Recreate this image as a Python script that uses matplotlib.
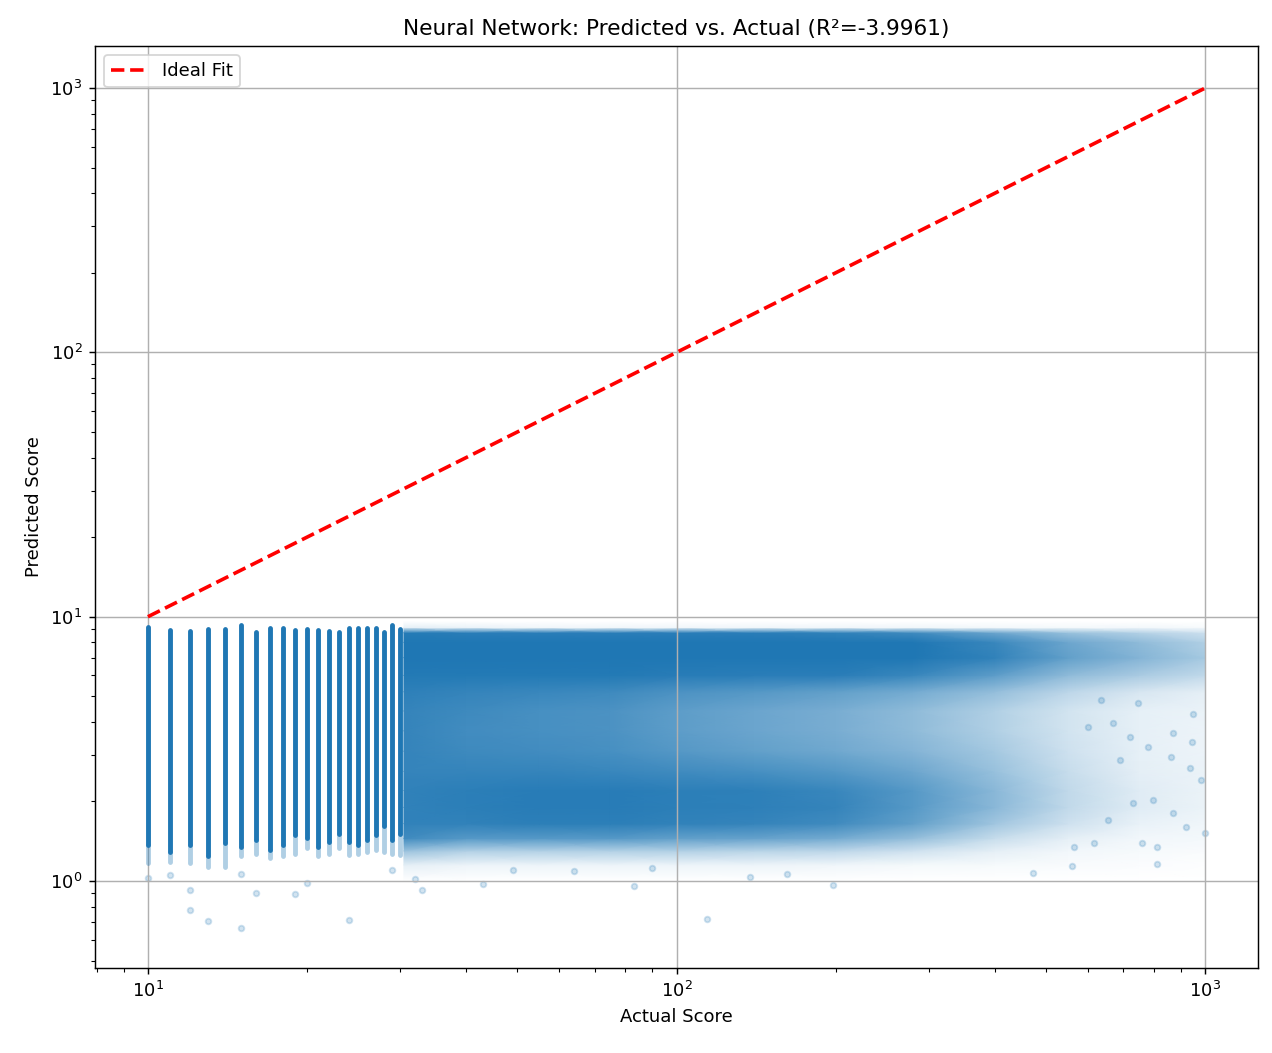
import numpy as np
import matplotlib
matplotlib.use('Agg')
import matplotlib.pyplot as plt
from matplotlib.colors import LinearSegmentedColormap

# Идеальная линия: от минимального до максимального значения
score_min, score_max = 10, 1000
r2 = -3.9961

# Вертикальные полосы для целых оценок 10..30 (верх, низ плотной части, хвост)
stripe_x = [10, 11, 12, 13, 14, 15, 16, 17, 18, 19, 20, 21, 22, 23, 24, 25, 26, 27, 28, 29, 30]
stripe_top = [9.12, 8.91, 8.85, 8.96, 8.96, 9.30, 8.77, 9.04, 9.04, 8.91, 8.96,
              8.91, 8.85, 8.77, 9.04, 9.04, 9.04, 9.04, 8.77, 9.30, 8.96]
stripe_low = [1.37, 1.29, 1.37, 1.24, 1.39, 1.35, 1.43, 1.31, 1.37, 1.49, 1.45,
              1.35, 1.41, 1.51, 1.41, 1.37, 1.43, 1.49, 1.61, 1.43, 1.51]
stripe_tail = [1.17, 1.18, 1.17, 1.13, 1.13, 1.24, 1.27, 1.22, 1.24, 1.27, 1.33,
               1.24, 1.27, 1.33, 1.25, 1.27, 1.29, 1.31, 1.29, 1.27, 1.25]

# Плотность облака точек для оценок > 30 (строки - предсказание, столбцы - факт)
cloud_x = [30.5, 40, 55, 75, 100, 140, 200, 280, 400, 550, 750, 1000]
cloud_y = [1.0, 1.15, 1.3, 1.45, 1.65, 1.9, 2.2, 2.6, 3.1, 3.7, 4.4, 5.2, 6.0, 7.0, 8.0, 8.7, 9.1, 9.6]
cloud_density = [
    [0, 0, 0, 0, 0, 0, 0, 0, 0, 0, 0, 0],
    [0.12, 0.08, 0.08, 0.08, 0.08, 0.08, 0.07, 0.05, 0.04, 0.03, 0.02, 0.01],
    [0.45, 0.35, 0.35, 0.35, 0.35, 0.32, 0.30, 0.22, 0.12, 0.06, 0.04, 0.03],
    [0.85, 0.75, 0.75, 0.75, 0.70, 0.68, 0.62, 0.48, 0.25, 0.12, 0.06, 0.05],
    [0.92, 0.92, 0.94, 0.94, 0.92, 0.90, 0.85, 0.70, 0.42, 0.22, 0.10, 0.07],
    [0.92, 0.94, 0.96, 0.96, 0.94, 0.93, 0.90, 0.75, 0.52, 0.28, 0.14, 0.09],
    [0.92, 0.94, 0.96, 0.96, 0.94, 0.93, 0.88, 0.75, 0.52, 0.28, 0.14, 0.09],
    [0.90, 0.90, 0.90, 0.88, 0.85, 0.82, 0.76, 0.65, 0.46, 0.25, 0.12, 0.09],
    [0.90, 0.86, 0.84, 0.82, 0.76, 0.70, 0.64, 0.55, 0.40, 0.22, 0.11, 0.08],
    [0.90, 0.84, 0.82, 0.80, 0.72, 0.66, 0.60, 0.50, 0.35, 0.20, 0.11, 0.08],
    [0.90, 0.86, 0.82, 0.80, 0.72, 0.66, 0.60, 0.50, 0.35, 0.20, 0.11, 0.09],
    [0.93, 0.90, 0.88, 0.86, 0.80, 0.76, 0.70, 0.62, 0.48, 0.30, 0.18, 0.12],
    [0.98, 0.98, 0.98, 0.98, 0.96, 0.95, 0.95, 0.88, 0.72, 0.50, 0.38, 0.28],
    [1.00, 1.00, 1.00, 1.00, 1.00, 1.00, 1.00, 1.00, 0.92, 0.70, 0.55, 0.40],
    [1.00, 1.00, 1.00, 1.00, 1.00, 1.00, 1.00, 1.00, 0.88, 0.65, 0.50, 0.35],
    [0.97, 0.95, 0.95, 0.95, 0.95, 0.95, 0.92, 0.85, 0.65, 0.45, 0.33, 0.22],
    [0.12, 0.10, 0.07, 0.07, 0.07, 0.07, 0.07, 0.07, 0.06, 0.05, 0.06, 0.04],
    [0, 0, 0, 0, 0, 0, 0, 0, 0, 0, 0, 0],
]

# Отдельные точки (выбросы и редкие точки справа)
single_actual = [10, 11, 12, 12, 13, 15, 15, 16, 19, 20, 24, 29, 32, 33, 43, 49, 64, 83, 90,
                 114, 138, 162, 198, 473, 560, 811, 944, 760, 812, 920, 1000, 980, 935, 860,
                 950, 870, 780, 720, 670, 745, 635, 600, 690, 730, 795, 870, 655, 615, 565]
single_pred = [1.03, 1.05, 0.925, 0.777, 0.706, 0.664, 1.06, 0.90, 0.893, 0.98, 0.711, 1.10,
               1.02, 0.925, 0.975, 1.10, 1.09, 0.957, 1.12, 0.718, 1.035, 1.06, 0.965, 1.07,
               1.14, 1.16, 3.37, 1.39, 1.34, 1.60, 1.52, 2.41, 2.67, 2.95, 4.3, 3.63, 3.21,
               3.5, 3.96, 4.7, 4.84, 3.83, 2.87, 1.97, 2.02, 1.81, 1.70, 1.39, 1.34]

blue = '#1f77b4'

fig = plt.figure(figsize=(9.785, 8.1), dpi=130)
ax = fig.add_axes([0.0747, 0.0807, 0.9143, 0.8756])

# Облако (непрозрачная заливка от белого к синему, сетка рисуется поверх)
fade = LinearSegmentedColormap.from_list('fade', ['white', blue])
X, Y = np.meshgrid(cloud_x, cloud_y)
ax.pcolormesh(X, Y, np.array(cloud_density), cmap=fade, vmin=0, vmax=1,
              shading='gouraud', zorder=1)

# Полосы
ax.vlines(stripe_x, stripe_tail, stripe_low, colors=blue, alpha=0.35,
          linewidth=2.7, capstyle='round')
ax.vlines(stripe_x, stripe_low, stripe_top, colors=blue, linewidth=2.7, capstyle='round')

ax.scatter(single_actual, single_pred, alpha=0.2, s=10, color=blue)

ax.plot([score_min, score_max], [score_min, score_max], 'r--', lw=2, label='Ideal Fit')

ax.set_xscale('log')
ax.set_yscale('log')
ax.set_xlim(10 ** 0.9, 10 ** 3.1)
ax.set_ylim(10 ** -0.329, 10 ** 3.159)
ax.set_xlabel('Actual Score')
ax.set_ylabel('Predicted Score')
ax.set_title(f'Neural Network: Predicted vs. Actual (R²={r2:.4f})')
ax.legend(loc='upper left')
ax.grid(True)

fig.savefig('out.png', dpi=130)
